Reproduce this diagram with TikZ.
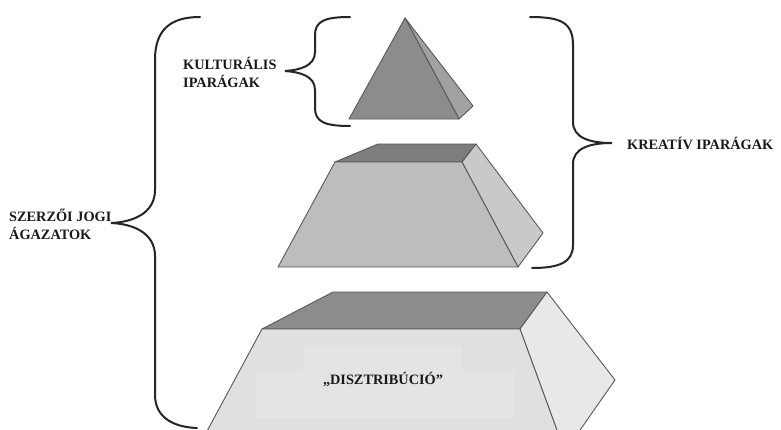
\documentclass[tikz,border=0pt]{standalone}
\usepackage{fontspec}
\setmainfont{Liberation Serif}
\begin{document}
\begin{tikzpicture}[x=1pt,y=-1pt,
  face/.style={draw=black!65,line width=0.9pt,line join=round},
  brace/.style={draw=black!85,line width=2pt,line cap=round},
  lbl/.style={font=\fontsize{14.3}{18}\selectfont\bfseries,text=black!90,inner sep=0pt,align=left}]
\useasboundingbox (0,0) rectangle (781,429);
\fill[white] (0,0) rectangle (781,429);
% top pyramid
\filldraw[face,fill=black!37] (405,18) -- (473,106) -- (459,119) -- cycle;
\filldraw[face,fill=black!45] (405,18) -- (459,119) -- (349,119) -- cycle;
% middle frustum
\filldraw[face,fill=black!51] (335,162) -- (378,144) -- (476,144) -- (462,162) -- cycle;
\filldraw[face,fill=black!21] (462,162) -- (476,144) -- (543,233) -- (518,267) -- cycle;
\filldraw[face,fill=black!26] (335,162) -- (462,162) -- (518,267) -- (278,267) -- cycle;
% bottom frustum
\filldraw[face,fill=black!45] (262,329) -- (333,292) -- (547,292) -- (520,329) -- cycle;
\filldraw[face,fill=black!9] (520,329) -- (547,292) -- (615,380) -- (578,433) -- (558,433) -- cycle;
\filldraw[face,fill=black!12] (262,329) -- (520,329) -- (558,433) -- (206,433) -- cycle;
\fill[black!10.5] (303,347) rectangle (462,370);
\fill[black!10.5] (255,370) rectangle (515,418);
% braces
\draw[brace] (200,17) .. controls (170,17) and (155,30) .. (155,60) -- (155,190)
  .. controls (155,212) and (135,222) .. (111,223)
  .. controls (135,224) and (155,234) .. (155,256) -- (155,395)
  .. controls (155,415) and (170,427) .. (197,428);
\draw[brace] (350,17) .. controls (325,17) and (315,21) .. (315,35) -- (315,52)
  .. controls (315,66) and (300,70) .. (285,71)
  .. controls (300,72) and (315,76) .. (315,90) -- (315,108)
  .. controls (315,122) and (325,126) .. (350,126);
\draw[brace] (530,17) .. controls (560,17) and (573,22) .. (573,45) -- (573,122)
  .. controls (573,138) and (590,143) .. (612,143)
  .. controls (590,143) and (573,148) .. (573,164) -- (573,245)
  .. controls (573,262) and (560,268) .. (532,268);
% labels
\node[lbl,anchor=west] (kult) at (183,72) {KULTURÁLIS\\IPARÁGAK};
\node[lbl,anchor=west] (szerz) at (9,224) {SZERZŐI JOGI\\ÁGAZATOK};
\node[lbl,anchor=west] (kreat) at (627,143) {KREATÍV IPARÁGAK};
\node[lbl] (distr) at (383,379) {„DISZTRIBÚCIÓ”};
\end{tikzpicture}
\end{document}
